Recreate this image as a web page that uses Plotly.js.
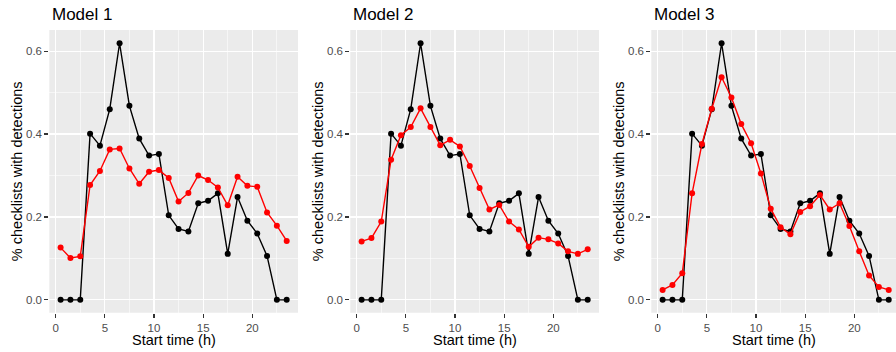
<!DOCTYPE html>
<html>
<head>
<meta charset="utf-8">
<script src="https://cdn.plot.ly/plotly-3.0.1.min.js"></script>
<style>html,body{margin:0;padding:0;background:#fff;}#chart{width:896px;height:352px;}</style>
</head>
<body>
<div id="chart"></div>
<script>
// Start time (h), hourly bins
const startTime = [0.5,1.5,2.5,3.5,4.5,5.5,6.5,7.5,8.5,9.5,10.5,11.5,12.5,13.5,14.5,15.5,16.5,17.5,18.5,19.5,20.5,21.5,22.5,23.5];
// Observed proportion (black), same in every panel
const observed = [0,0,0,0.401,0.372,0.460,0.619,0.468,0.389,0.348,0.352,0.204,0.171,0.165,0.233,0.239,0.257,0.111,0.248,0.191,0.160,0.106,0,0];
// Model predictions (red)
const model1 = [0.126,0.101,0.105,0.277,0.311,0.363,0.365,0.317,0.280,0.309,0.313,0.294,0.237,0.258,0.300,0.289,0.271,0.228,0.297,0.275,0.273,0.211,0.179,0.142];
const model2 = [0.141,0.149,0.189,0.338,0.397,0.417,0.462,0.417,0.373,0.386,0.370,0.323,0.270,0.218,0.229,0.189,0.170,0.128,0.150,0.146,0.136,0.117,0.111,0.122];
const model3 = [0.024,0.036,0.064,0.257,0.376,0.461,0.537,0.488,0.424,0.378,0.305,0.220,0.175,0.158,0.212,0.226,0.253,0.218,0.233,0.178,0.117,0.059,0.031,0.024];
const panelTitles = ["Model 1","Model 2","Model 3"];
const models = [model1, model2, model3];
const xTicks = [0,5,10,15,20];
const yTicks = [0,0.2,0.4,0.6];

const W = 896, H = 352;
const px = [[49.3,298],[350.3,599],[651.3,896]];
const xRanges = [[-0.65,24.65],[-0.65,24.65],[-0.65,24.24]];
const yDom = [(H-312.7)/H, (H-30)/H];
const font = "Arial, 'Liberation Sans', sans-serif";

const traces = [];
const layout = {
  width: W, height: H,
  margin: {l:0,r:0,t:0,b:0},
  paper_bgcolor: '#ffffff',
  showlegend: false,
  font: {family: font},
  annotations: []
};

for (let i = 0; i < 3; i++) {
  const sfx = i === 0 ? '' : String(i+1);
  const xa = 'x' + sfx, ya = 'y' + sfx;
  traces.push({x: startTime, y: observed, xaxis: xa, yaxis: ya, type:'scatter', mode:'lines+markers',
    line:{color:'#000000', width:1.4}, marker:{color:'#000000', size:6}, hoverinfo:'skip'});
  traces.push({x: startTime, y: models[i], xaxis: xa, yaxis: ya, type:'scatter', mode:'lines+markers',
    line:{color:'#ff0000', width:1.4}, marker:{color:'#ff0000', size:6}, hoverinfo:'skip'});
  const axBase = {
    showline:false, zeroline:false, ticks:'outside', ticklen:4, tickwidth:1.1, tickcolor:'#333333',
    showgrid:true, gridcolor:'#ffffff', gridwidth:1.1,
    tickfont:{family:font, size:11.5, color:'#4d4d4d'}
  };
  layout['xaxis' + sfx] = Object.assign({}, axBase, {
    domain:[px[i][0]/W, px[i][1]/W], range:xRanges[i], anchor: ya,
    tickmode:'array', tickvals: xTicks, ticktext: xTicks.map(String),
    minor:{tickmode:'array', tickvals:[2.5,7.5,12.5,17.5,22.5], showgrid:true, gridcolor:'#ffffff', gridwidth:0.55, ticks:''}
  });
  layout['yaxis' + sfx] = Object.assign({}, axBase, {
    domain: yDom, range:[-0.031,0.651], anchor: xa,
    tickmode:'array', tickvals: yTicks, ticktext: yTicks.map(v => v.toFixed(1)),
    minor:{tickmode:'array', tickvals:[0.1,0.3,0.5], showgrid:true, gridcolor:'#ffffff', gridwidth:0.55, ticks:''}
  });
  layout.shapes = layout.shapes || [];
  layout.shapes.push({type:'rect', xref:'paper', yref:'paper', layer:'below',
    x0:px[i][0]/W, x1:px[i][1]/W, y0:yDom[0], y1:yDom[1], fillcolor:'#ebebeb', line:{width:0}});
  // panel title
  layout.annotations.push({text: panelTitles[i], xref:'paper', yref:'paper', x:(px[i][0]+0.5)/W, y:(H-15)/H,
    xanchor:'left', yanchor:'middle', showarrow:false, font:{family:font, size:17, color:'#000000'}});
  // x axis title
  layout.annotations.push({text:'Start time (h)', xref:'paper', yref:'paper', x:((px[i][0]+px[i][1])/2)/W, y:(H-340)/H,
    xanchor:'center', yanchor:'middle', showarrow:false, font:{family:font, size:14.5, color:'#000000'}});
  // y axis title
  layout.annotations.push({text:'% checklists with detections', xref:'paper', yref:'paper', x:(px[i][0]-31.5)/W, y:((H-30+H-312.7)/2)/H,
    xanchor:'center', yanchor:'middle', textangle:-90, showarrow:false, font:{family:font, size:14.5, color:'#000000'}});
}
layout.plot_bgcolor = 'rgba(0,0,0,0)';

Plotly.newPlot('chart', traces, layout, {staticPlot:true, displayModeBar:false});
</script>
</body>
</html>
